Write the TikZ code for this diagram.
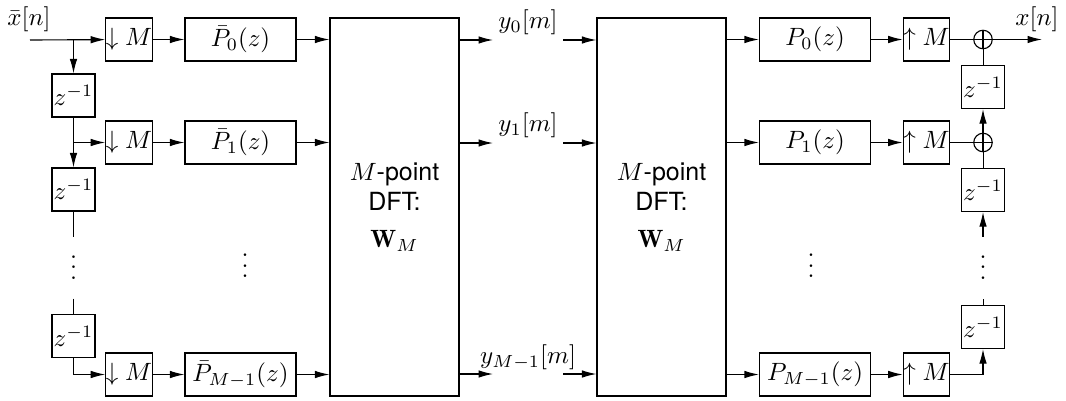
\documentclass[tikz,border=0pt]{standalone}
\usepackage{amsmath}
\usepackage{fontspec}
\setsansfont{TeX Gyre Heros}
\usetikzlibrary{arrows.meta,calc}

\newcommand{\vdts}{\vbox{\baselineskip4.2pt\lineskiplimit0pt\hbox{.}\hbox{.}\hbox{.}}}

\begin{document}
\begin{tikzpicture}[
  >={Latex[length=5.8pt,width=3pt]},
  x=0.4pt,y=-0.4pt,
  blk/.style={draw=black, line width=0.45pt, inner sep=0pt,
    minimum width=17.6pt, minimum height=17.2pt},
  filt/.style={blk, minimum width=44.4pt},
  delay/.style={blk, minimum width=17.2pt},
  dft/.style={draw=black, line width=0.45pt, align=center, inner sep=0pt,
    minimum width=51.6pt, minimum height=151.2pt},
  adder/.style={draw=black, line width=0.45pt, circle, minimum size=7.4pt, inner sep=0pt,
    path picture={\draw (path picture bounding box.north) -- (path picture bounding box.south)
      (path picture bounding box.west) -- (path picture bounding box.east);}},
  dotcol/.style={inner sep=0pt, minimum height=24.4pt},
  arrow/.style={->, line width=0.45pt}
]
\useasboundingbox (0,0) rectangle (1066,400);

% Analysis side: delay chain, decimators and polyphase filters
\coordinate (xin) at (30,40);
\node (xlab) at (29,19) {$\bar{x}[n]$};
\node[blk] (d0) at (129,39.5) {$\downarrow M$};
\node[blk] (d1) at (129,142.5) {$\downarrow M$};
\node[blk] (dM) at (129,374.5) {$\downarrow M$};
\node[filt] (pb0) at (240.5,39.5) {$\bar{P}_0(z)$};
\node[filt] (pb1) at (240.5,142.5) {$\bar{P}_1(z)$};
\node[filt] (pbM) at (240.5,374.5) {$\bar{P}_{M-1}(z)$};
\node[delay] (z1) at (73.5,95.5) {$z^{-1}$};
\node[delay] (z2) at (73.5,189.5) {$z^{-1}$};
\node[delay] (z3) at (73.5,336) {$z^{-1}$};
\node[dotcol] (ldots) at (73.5,267.5) {\vdts};
\node[dotcol] (pbdots) at (245,266) {\vdts};

% The two DFT blocks
\node[dft] (dft1) at (394.5,207) {$M$\textsf{-point}\\\textsf{DFT:}\\[3pt]$\mathbf{W}_M$};
\node[dft] (dft2) at (661.5,207) {$M$\textsf{-point}\\\textsf{DFT:}\\[3pt]$\mathbf{W}_M$};

% Subband signals between the blocks
\coordinate (ya0) at (493,40);
\coordinate (yb0) at (563,40);
\coordinate (ya1) at (493,143);
\coordinate (yb1) at (563,143);
\coordinate (yaM) at (493,374);
\coordinate (ybM) at (563,374);
\node (ylab0) at (528,22) {$y_0[m]$};
\node (ylab1) at (528,125) {$y_1[m]$};
\node (ylabM) at (528,357) {$y_{M-1}[m]$};

% Synthesis side: polyphase filters, expanders and adders
\node[filt] (p0) at (815,39.5) {$P_0(z)$};
\node[filt] (p1) at (815,142.5) {$P_1(z)$};
\node[filt] (pM) at (815,374.5) {$P_{M-1}(z)$};
\node[blk] (u0) at (926.5,39.5) {$\uparrow M$};
\node[blk] (u1) at (926.5,142.5) {$\uparrow M$};
\node[blk] (uM) at (926.5,374.5) {$\uparrow M$};
\node[adder] (a0) at (983,39.5) {};
\node[adder] (a1) at (983,142.5) {};
\node[delay] (rz1) at (983,87) {$z^{-1}$};
\node[delay] (rz2) at (983,190) {$z^{-1}$};
\node[delay] (rz3) at (983,327) {$z^{-1}$};
\node[dotcol] (rdots) at (983,267.5) {\vdts};
\node[dotcol] (pdots) at (811,266) {\vdts};
\coordinate (xout) at (1042,39.5);
\node (xolab) at (1037,19) {$x[n]$};

% Analysis connections
\draw[arrow] (xin) -- (d0);
\draw[arrow] (z1.north |- d0) -- (z1);
\draw[arrow] (z1.south) -- (z2);
\draw[arrow] (z1.south |- d1) -- (d1);
\draw (z2) -- (ldots);
\draw (ldots) -- (z3);
\draw[arrow] (z3.south) |- (dM);
\draw[arrow] (d0) -- (pb0);
\draw[arrow] (d1) -- (pb1);
\draw[arrow] (dM) -- (pbM);
\draw[arrow] (pb0) -- (pb0 -| dft1.west);
\draw[arrow] (pb1) -- (pb1 -| dft1.west);
\draw[arrow] (pbM) -- (pbM -| dft1.west);

% DFT to DFT
\draw[arrow] (dft1.east |- ya0) -- (ya0);
\draw[arrow] (dft1.east |- ya1) -- (ya1);
\draw[arrow] (dft1.east |- yaM) -- (yaM);
\draw[arrow] (yb0) -- (dft2.west |- yb0);
\draw[arrow] (yb1) -- (dft2.west |- yb1);
\draw[arrow] (ybM) -- (dft2.west |- ybM);

% Synthesis connections
\draw[arrow] (dft2.east |- p0) -- (p0);
\draw[arrow] (dft2.east |- p1) -- (p1);
\draw[arrow] (dft2.east |- pM) -- (pM);
\draw[arrow] (p0) -- (u0);
\draw[arrow] (p1) -- (u1);
\draw[arrow] (pM) -- (uM);
\draw (u0) -- (a0);
\draw (u1) -- (a1);
\draw[arrow] (a0) -- (xout);
\draw (rz1) -- (a0);
\draw[arrow] (a1) -- (rz1);
\draw (rz2) -- (a1);
\draw[arrow] (rdots) -- (rz2);
\draw (rz3) -- (rdots);
\draw[arrow] (uM) -| (rz3);

\end{tikzpicture}
\end{document}
